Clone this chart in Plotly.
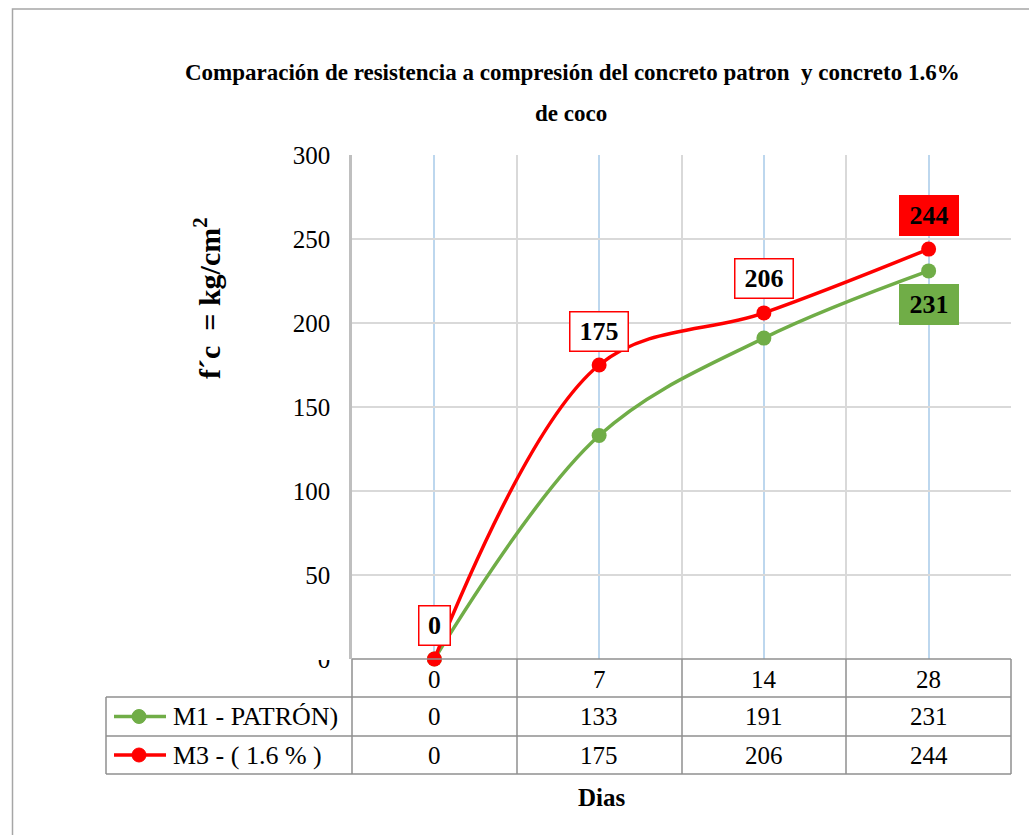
import plotly.graph_objects as go

# Data: compressive strength (kg/cm2) by curing age (days)
dias = [0, 7, 14, 28]
m1_patron = [0, 133, 191, 231]
m3_coco = [0, 175, 206, 244]
series_names = ["M1 - PATRÓN)", "M3 - ( 1.6 % )"]
y_ticks = [0, 50, 100, 150, 200, 250, 300]

GREEN = "#70ad47"
RED = "#ff0000"
GRID = "#d9d9d9"
BLUE_GRID = "#bdd7ee"
TABLE_LINE = "#8f8f8f"
FONT = "Liberation Serif"

W, H = 1029, 835
L, R, T, B = 352, 18, 155, 176
PW, PH = W - L - R, H - T - B


def fx(px):
    """Horizontal pixel -> paper coordinate."""
    return (px - L) / PW


def fy(py):
    """Vertical pixel -> paper coordinate."""
    return (H - B - py) / PH


idx = list(range(len(dias)))

fig = go.Figure()
fig.add_trace(go.Scatter(
    x=idx, y=m1_patron, mode="lines+markers", name=series_names[0],
    line=dict(color=GREEN, width=3.5, shape="spline", smoothing=1),
    marker=dict(color=GREEN, size=15), cliponaxis=False,
))
fig.add_trace(go.Scatter(
    x=idx, y=m3_coco, mode="lines+markers", name=series_names[1],
    line=dict(color=RED, width=3.5, shape="spline", smoothing=1),
    marker=dict(color=RED, size=15), cliponaxis=False,
))

annotations = []
shapes = []

# Title (two lines)
title_font = dict(family=FONT, size=23, color="black")
annotations.append(dict(
    text="<b>Comparación de resistencia a compresión del concreto patron  y concreto 1.6%</b>",
    xref="paper", yref="paper", x=fx(572), y=fy(73), showarrow=False,
    xanchor="center", yanchor="middle", font=title_font,
))
annotations.append(dict(
    text="<b>de coco</b>", xref="paper", yref="paper", x=fx(571), y=fy(113),
    showarrow=False, xanchor="center", yanchor="middle", font=title_font,
))

# Y-axis title
annotations.append(dict(
    text="<b>f´c  = kg/cm<sup>2</sup></b>", xref="paper", yref="paper",
    x=fx(207), y=fy(298), textangle=-90, showarrow=False,
    xanchor="center", yanchor="middle", font=dict(family=FONT, size=30, color="black"),
))

# X-axis title
annotations.append(dict(
    text="<b>Dias</b>", xref="paper", yref="paper", x=fx(602), y=fy(797),
    showarrow=False, xanchor="center", yanchor="middle",
    font=dict(family=FONT, size=25, color="black"),
))

# Data labels for M3 series (boxed, above the points)
label_font = dict(family=FONT, size=26, color="black")
for i, v in zip(idx, m3_coco):
    last = i == idx[-1]
    w = 28 if v == 0 else 55
    annotations.append(dict(
        text=f"<b>{v}</b>", x=i, y=v, xref="x", yref="y", showarrow=False,
        yshift=34, xanchor="center", yanchor="middle", width=w, height=36,
        bgcolor=RED if last else "white", bordercolor=RED, borderwidth=1.5,
        borderpad=1, font=label_font,
    ))

# Data label for the last M1 point (filled, below the point)
annotations.append(dict(
    text=f"<b>{m1_patron[-1]}</b>", x=idx[-1], y=m1_patron[-1], xref="x", yref="y",
    showarrow=False, yshift=-34, xanchor="center", yanchor="middle", width=55,
    height=36, bgcolor=GREEN, bordercolor=GREEN, borderwidth=1.5, borderpad=1,
    font=label_font,
))

# Data table below the plot
tbl_font = dict(family=FONT, size=25, color="black")
name_font = dict(family=FONT, size=26, color="black")
row_top = [659, 697, 736]
row_bot = [697, 736, 774]
col_edges = [352, 517, 682, 846, 1011]
table_left = 106

for i, d in enumerate(dias):
    annotations.append(dict(text=str(d), x=i, y=fy(679), xref="x", yref="paper",
                            showarrow=False, font=tbl_font, yanchor="middle"))
for r, vals in enumerate([m1_patron, m3_coco]):
    yc = (row_top[r + 1] + row_bot[r + 1]) / 2
    for i, v in zip(idx, vals):
        annotations.append(dict(text=str(v), x=i, y=fy(yc), xref="x", yref="paper",
                                showarrow=False, font=tbl_font, yanchor="middle"))
    annotations.append(dict(text=series_names[r], x=fx(171), y=fy(yc), xref="paper",
                            yref="paper", showarrow=False, xanchor="left",
                            yanchor="middle", font=name_font))

line_style = dict(color=TABLE_LINE, width=1.5)
# horizontal table lines
shapes.append(dict(type="line", xref="paper", yref="paper", x0=fx(352), x1=fx(1011),
                   y0=fy(659), y1=fy(659), line=line_style, layer="above"))
for yy in [697, 736, 774]:
    shapes.append(dict(type="line", xref="paper", yref="paper", x0=fx(table_left),
                       x1=fx(1011), y0=fy(yy), y1=fy(yy), line=line_style, layer="above"))
# vertical table lines
for xx in col_edges:
    shapes.append(dict(type="line", xref="paper", yref="paper", x0=fx(xx), x1=fx(xx),
                       y0=fy(659), y1=fy(774), line=line_style, layer="above"))
shapes.append(dict(type="line", xref="paper", yref="paper", x0=fx(table_left),
                   x1=fx(table_left), y0=fy(697), y1=fy(774), line=line_style, layer="above"))

# legend keys inside the table
for r, col in enumerate([GREEN, RED]):
    yc = (row_top[r + 1] + row_bot[r + 1]) / 2
    shapes.append(dict(type="line", xref="paper", yref="paper", x0=fx(114), x1=fx(166),
                       y0=fy(yc), y1=fy(yc), line=dict(color=col, width=3.5), layer="above"))
    shapes.append(dict(type="circle", xref="paper", yref="paper", x0=fx(132), x1=fx(146),
                       y0=fy(yc + 7), y1=fy(yc - 7), fillcolor=col,
                       line=dict(color=col, width=1), layer="above"))

# hide the upper part of the zero tick label, as the table header overlaps it
shapes.append(dict(type="rect", xref="paper", yref="paper", x0=fx(290), x1=fx(348),
                   y0=fy(660), y1=fy(645), fillcolor="white", line=dict(width=0),
                   layer="above"))

# outer chart border
shapes.append(dict(type="rect", xref="paper", yref="paper", x0=fx(12.5), x1=fx(1040),
                   y0=fy(850), y1=fy(9), line=dict(color="#a6a6a6", width=1.5),
                   layer="above"))

fig.update_layout(
    width=W, height=H, margin=dict(l=L, r=R, t=T, b=B),
    paper_bgcolor="white", plot_bgcolor="white", showlegend=False,
    font=dict(family=FONT, color="black"),
    annotations=annotations, shapes=shapes,
)
fig.update_xaxes(
    range=[-0.5, len(dias) - 0.5], tickvals=idx, showticklabels=False,
    showgrid=True, gridcolor=BLUE_GRID, gridwidth=1.5, zeroline=False,
    showline=False, ticks="",
    minor=dict(tickvals=[i - 0.5 for i in range(len(dias) + 1)], showgrid=True,
               gridcolor=GRID, gridwidth=2, ticks=""),
)
fig.update_yaxes(
    range=[0, 300], tickvals=y_ticks, showgrid=True, gridcolor=GRID, gridwidth=2,
    zeroline=False, showline=True, linecolor="#bfbfbf", linewidth=2.5, ticks="",
    tickfont=dict(family=FONT, size=25, color="black"), ticklabelstandoff=14,
)

fig.write_html("out.html")
